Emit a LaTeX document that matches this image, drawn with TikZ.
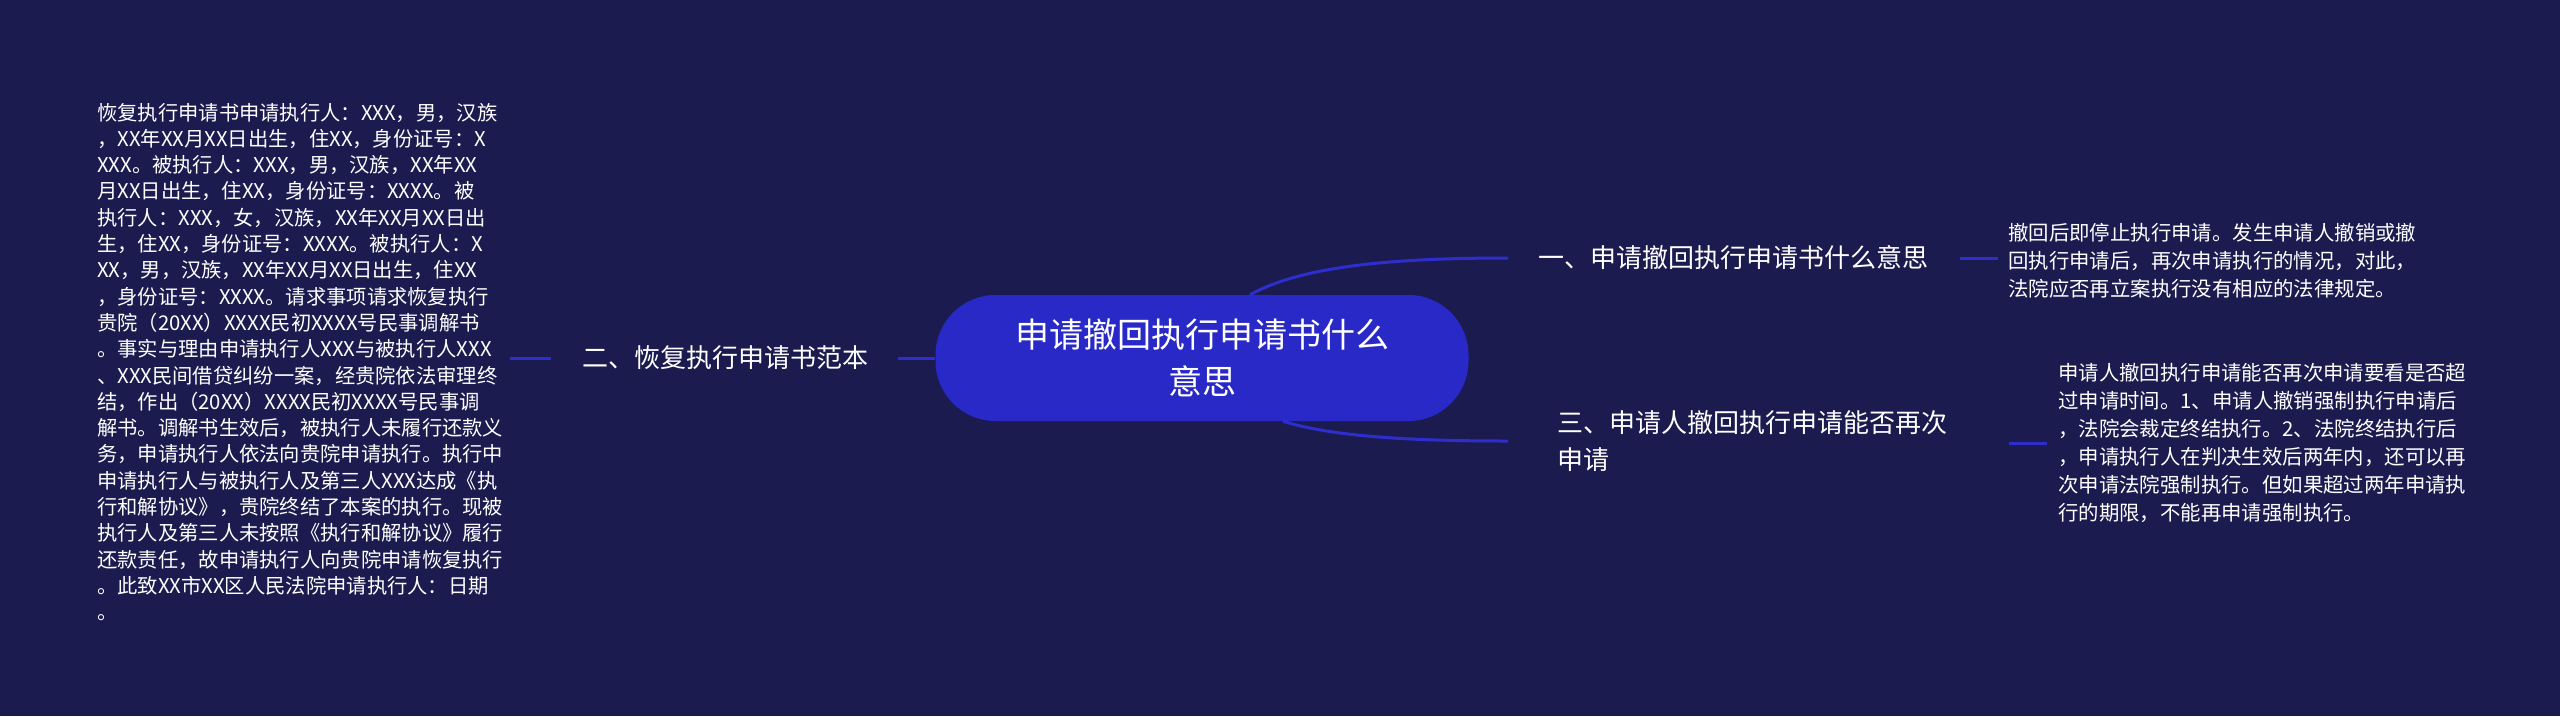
\documentclass[tikz,border=0pt]{standalone}
\usepackage{fontspec}
\setmainfont{Noto Sans CJK SC}
\usetikzlibrary{positioning}
\definecolor{bgnavy}{RGB}{27,27,80}
\definecolor{pillblue}{RGB}{41,41,200}
\definecolor{linkblue}{RGB}{46,46,206}

\begin{document}
\begin{tikzpicture}[
  x=1pt, y=-1pt,
  every node/.style={text=white, inner sep=0pt},
  rootnode/.style={rounded corners=60pt, fill=pillblue, minimum width=533pt, minimum height=126pt, align=center, font=\fontsize{34}{47}\selectfont},
  branch/.style={align=left, font=\fontsize{26}{37}\selectfont},
  leaf/.style={align=left, font=\fontsize{20.3}{26.3}\selectfont},
  rleaf/.style={align=left, font=\fontsize{20.4}{28}\selectfont},
  link/.style={draw=linkblue, line width=3pt}
]
\fill[bgnavy] (0,0) rectangle (2560,716);
\useasboundingbox (0,0) rectangle (2560,716);

% centre
\node[rootnode] (root) at (1202,358) {申请撤回执行申请书什么\\意思};

% branches
\node[branch, anchor=west] (b1) at (1538,258) {一、申请撤回执行申请书什么意思};
\node[branch, anchor=west] (b2) at (582,358) {二、恢复执行申请书范本};
\node[branch, anchor=west] (b3) at (1557,441) {三、申请人撤回执行申请能否再次\\申请};

% leaves
\node[rleaf, anchor=west] (l1) at (2008,261) {撤回后即停止执行申请。发生申请人撤销或撤\\
回执行申请后，再次申请执行的情况，对此，\\
法院应否再立案执行没有相应的法律规定。};
\node[leaf, anchor=west] (l2) at (97,362) {恢复执行申请书申请执行人：XXX，男，汉族\\
，XX年XX月XX日出生，住XX，身份证号：X\\
XXX。被执行人：XXX，男，汉族，XX年XX\\
月XX日出生，住XX，身份证号：XXXX。被\\
执行人：XXX，女，汉族，XX年XX月XX日出\\
生，住XX，身份证号：XXXX。被执行人：X\\
XX，男，汉族，XX年XX月XX日出生，住XX\\
，身份证号：XXXX。请求事项请求恢复执行\\
贵院（20XX）XXXX民初XXXX号民事调解书\\
。事实与理由申请执行人XXX与被执行人XXX\\
、XXX民间借贷纠纷一案，经贵院依法审理终\\
结，作出（20XX）XXXX民初XXXX号民事调\\
解书。调解书生效后，被执行人未履行还款义\\
务，申请执行人依法向贵院申请执行。执行中\\
申请执行人与被执行人及第三人XXX达成《执\\
行和解协议》，贵院终结了本案的执行。现被\\
执行人及第三人未按照《执行和解协议》履行\\
还款责任，故申请执行人向贵院申请恢复执行\\
。此致XX市XX区人民法院申请执行人：日期\\
。};
\node[rleaf, anchor=west] (l3) at (2058,443) {申请人撤回执行申请能否再次申请要看是否超\\
过申请时间。1、申请人撤销强制执行申请后\\
，法院会裁定终结执行。2、法院终结执行后\\
，申请执行人在判决生效后两年内，还可以再\\
次申请法院强制执行。但如果超过两年申请执\\
行的期限，不能再申请强制执行。};

% connectors
\draw[link] ([xshift=48pt]root.north) .. controls +(50,-28) and +(-120,0) .. ([xshift=-30pt]b1.west);
\draw[link] ([xshift=81pt]root.south) .. controls +(45,14) and +(-110,0) .. ([xshift=-49pt]b3.west);
\draw[link] (root.west) -- ([xshift=30pt]b2.east);
\draw[link] ([xshift=-31pt]b2.west) -- ([xshift=7pt]l2.east |- b2.west);
\draw[link] ([xshift=32pt]b1.east) -- ([xshift=-10pt]l1.west |- b1.east);
\draw[link] ([xshift=-49pt]l3.west) -- ([xshift=-11pt]l3.west);
\end{tikzpicture}
\end{document}
